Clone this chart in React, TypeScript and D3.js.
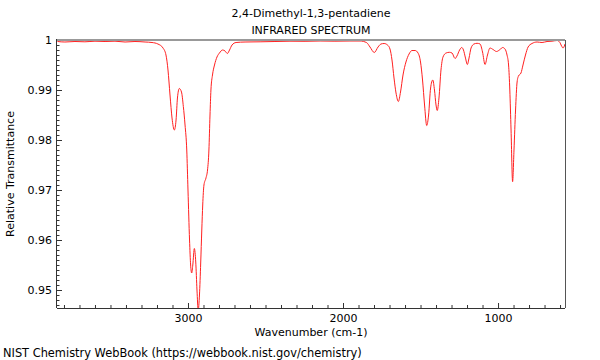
//@ts-nocheck
import React, { useRef, useEffect } from 'react'
import * as d3 from 'd3'

const titleLines = ['2,4-Dimethyl-1,3-pentadiene', 'INFRARED SPECTRUM']
const xLabel = 'Wavenumber (cm-1)'
const yLabel = 'Relative Transmittance'
const footer = 'NIST Chemistry WebBook (https://webbook.nist.gov/chemistry)'

const wavenumbers = [
  3842, 3794, 3729, 3665, 3600, 3535, 3471, 3406, 3342, 3277, 3232, 3194, 3161, 3142, 3129, 3116, 3103, 3088, 3077,
  3068, 3056, 3042, 3030, 3019, 3008, 3000, 2990, 2983, 2976, 2969, 2959, 2950, 2942, 2934, 2926, 2918, 2911, 2905,
  2897, 2884, 2874, 2865, 2858, 2852, 2842, 2829, 2813, 2797, 2777, 2761, 2746, 2732, 2716, 2690, 2632, 2535, 2439,
  2342, 2245, 2148, 2052, 1955, 1890, 1847, 1826, 1798, 1774, 1755, 1735, 1713, 1697, 1684, 1671, 1658, 1643, 1629,
  1613, 1594, 1574, 1555, 1535, 1516, 1500, 1487, 1474, 1460, 1448, 1435, 1421, 1410, 1400, 1392, 1381, 1368, 1355,
  1335, 1314, 1297, 1277, 1265, 1248, 1234, 1223, 1210, 1198, 1187, 1174, 1155, 1135, 1116, 1100, 1084, 1068, 1052,
  1032, 1010, 987, 970, 955, 942, 932, 924, 916, 906, 897, 887, 877, 868, 852, 839, 823, 806, 781, 748, 716, 684, 652,
  619, 603, 590, 581, 572, 568
]

const transmittance = [
  0.9997, 0.9996, 0.9997, 0.99964, 0.99976, 0.9997, 0.99976, 0.9996, 0.9997, 0.9996, 0.9995, 0.9992, 0.9984, 0.997,
  0.994, 0.989, 0.9844, 0.982, 0.984, 0.9884, 0.9903, 0.9896, 0.9867, 0.983, 0.978, 0.97, 0.96, 0.955, 0.9534, 0.955,
  0.9583, 0.9556, 0.95, 0.946, 0.949, 0.9554, 0.962, 0.967, 0.971, 0.9724, 0.974, 0.978, 0.985, 0.99, 0.993, 0.995,
  0.9966, 0.9974, 0.998, 0.9978, 0.9973, 0.998, 0.999, 0.9995, 0.9996, 0.99964, 0.9997, 0.99976, 0.99974, 0.9998,
  0.99976, 0.9998, 0.9998, 0.99946, 0.9986, 0.9975, 0.9986, 0.9992, 0.9993, 0.999, 0.9982, 0.996, 0.9924, 0.9894,
  0.9877, 0.9896, 0.993, 0.9956, 0.9972, 0.9979, 0.9979, 0.9974, 0.9956, 0.992, 0.987, 0.9829, 0.985, 0.9904, 0.992,
  0.99, 0.987, 0.9859, 0.9884, 0.994, 0.9966, 0.9974, 0.99754, 0.9974, 0.9963, 0.9968, 0.998, 0.9985, 0.998, 0.9964,
  0.9951, 0.9964, 0.9984, 0.9992, 0.99934, 0.9992, 0.9976, 0.9951, 0.997, 0.9984, 0.9981, 0.9977, 0.9981, 0.9985,
  0.9982, 0.997, 0.995, 0.99, 0.982, 0.97166, 0.978, 0.986, 0.9916, 0.9928, 0.9934, 0.995, 0.997, 0.9986, 0.9993,
  0.9996, 0.9995, 0.9997, 0.99976, 0.9999, 0.9996, 0.9988, 0.9984, 0.9988, 0.9992
]

const xMajorTicks = [3000, 2000, 1000]
const yMajorTicks = [0.95, 0.96, 0.97, 0.98, 0.99, 1.0]

const App = () => {
  const node = useRef<SVGSVGElement | null>(null)
  const width = 600
  const height = 360

  useEffect(() => {
    const svg = d3.select(node.current)
    svg.selectAll('*').remove()

    const margin = { top: 40, right: 35, bottom: 52, left: 57 }
    const x = d3.scaleLinear().domain([3845, 568]).range([margin.left, width - margin.right])
    const y = d3.scaleLinear().domain([0.9464, 1.0]).range([height - margin.bottom, margin.top])

    const font = 'DejaVu Sans, sans-serif'
    const fs = 11
    const data = wavenumbers.map((w, i) => ({ w, t: transmittance[i] }))

    svg
      .append('clipPath')
      .attr('id', 'plotClip')
      .append('rect')
      .attr('x', margin.left)
      .attr('y', margin.top)
      .attr('width', width - margin.left - margin.right)
      .attr('height', height - margin.top - margin.bottom)

    const line = d3
      .line()
      .curve(d3.curveMonotoneX)
      .x((d) => x(d.w))
      .y((d) => y(d.t))

    svg
      .append('path')
      .attr('d', line(data))
      .attr('fill', 'none')
      .attr('stroke', '#ff2020')
      .attr('stroke-width', 1)
      .attr('clip-path', 'url(#plotClip)')

    const xMinor = d3.range(600, 3801, 100).filter((v) => v % 1000 !== 0)
    const yMinor = d3.range(947, 1000, 1).map((v) => v / 1000).filter((v) => Math.round(v * 1000) % 10 !== 0)

    const bottom = height - margin.bottom

    // minor ticks, pointing inward
    svg
      .append('g')
      .attr('transform', `translate(0,${bottom})`)
      .call(d3.axisBottom(x).tickValues(xMinor).tickSize(-3).tickFormat(''))
      .call((g) => g.select('.domain').remove())
    svg
      .append('g')
      .attr('transform', `translate(${margin.left},0)`)
      .call(d3.axisLeft(y).tickValues(yMinor).tickSize(-2.5).tickFormat(''))
      .call((g) => g.select('.domain').remove())

    // major ticks with labels
    svg
      .append('g')
      .attr('transform', `translate(0,${bottom})`)
      .call(d3.axisBottom(x).tickValues(xMajorTicks).tickSize(-5).tickPadding(6).tickFormat(d3.format('d')))
      .call((g) => g.select('.domain').remove())
      .call((g) => g.selectAll('text').attr('font-size', fs).attr('font-family', font).attr('fill', '#000'))
    svg
      .append('g')
      .attr('transform', `translate(${margin.left},0)`)
      .call(
        d3
          .axisLeft(y)
          .tickValues(yMajorTicks)
          .tickSize(-5)
          .tickPadding(5)
          .tickFormat((v) => (v === 1 ? '1' : v.toFixed(2)))
      )
      .call((g) => g.select('.domain').remove())
      .call((g) => g.selectAll('text').attr('font-size', fs).attr('font-family', font).attr('fill', '#000'))

    svg.selectAll('.tick line').attr('stroke', '#333')

    // frame
    svg
      .append('line')
      .attr('x1', margin.left)
      .attr('x2', width - margin.right)
      .attr('y1', margin.top)
      .attr('y2', margin.top)
      .attr('stroke', '#999')
      .attr('stroke-width', 2)
    svg
      .append('line')
      .attr('x1', width - margin.right + 0.5)
      .attr('x2', width - margin.right + 0.5)
      .attr('y1', margin.top)
      .attr('y2', bottom)
      .attr('stroke', '#555')
    svg
      .append('line')
      .attr('x1', margin.left)
      .attr('x2', width - margin.right)
      .attr('y1', bottom + 0.5)
      .attr('y2', bottom + 0.5)
      .attr('stroke', '#333')
    svg
      .append('line')
      .attr('x1', margin.left - 0.5)
      .attr('x2', margin.left - 0.5)
      .attr('y1', margin.top - 1)
      .attr('y2', bottom)
      .attr('stroke', '#333')

    const cx = (margin.left + width - margin.right) / 2
    titleLines.forEach((t, i) => {
      svg
        .append('text')
        .attr('x', cx)
        .attr('y', 17 + i * 17)
        .attr('text-anchor', 'middle')
        .attr('font-family', font)
        .attr('font-size', fs)
        .text(t)
    })

    svg
      .append('text')
      .attr('x', cx)
      .attr('y', 336)
      .attr('text-anchor', 'middle')
      .attr('font-family', font)
      .attr('font-size', fs)
      .text(xLabel)

    svg
      .append('text')
      .attr('transform', `translate(14,${(margin.top + bottom) / 2}) rotate(-90)`)
      .attr('text-anchor', 'middle')
      .attr('font-family', font)
      .attr('font-size', fs)
      .text(yLabel)

    svg
      .append('text')
      .attr('x', 3)
      .attr('y', 357)
      .attr('font-family', font)
      .attr('font-size', fs + 0.4)
      .text(footer)
  }, [node])

  return (
    <svg
      ref={node}
      width={width}
      height={height}
      style={{ position: 'absolute', left: 0, top: 0, background: '#fff' }}
    ></svg>
  )
}

export default App
